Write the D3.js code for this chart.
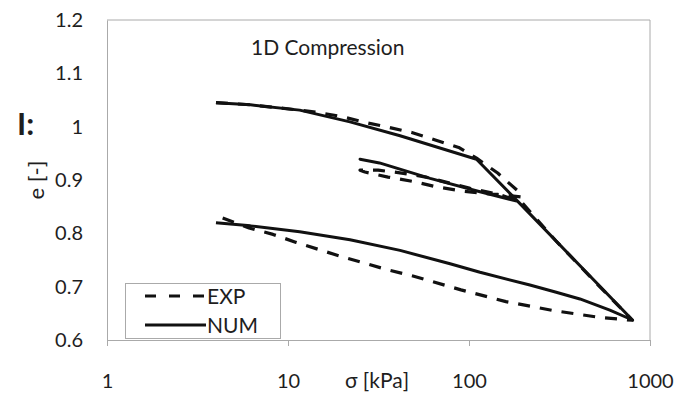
<!DOCTYPE html>
<html>
<head>
<meta charset="utf-8">
<script src="https://cdn.jsdelivr.net/npm/d3@7"></script>
<style>
  body { margin: 0; background: #fff; }
  text { font-family: Lato, "Open Sans", sans-serif; fill: #1e1e1e; }
</style>
</head>
<body>
<svg id="chart" width="700" height="398"></svg>
<script>
// axis ticks
var xTicks = [1, 10, 100, 1000];
var yTicks = [0.6, 0.7, 0.8, 0.9, 1, 1.1, 1.2];

// EXP: load -> unload -> reload -> load -> unload
var expSigma = [4, 6.2, 11.6, 14.4, 19.8, 26.6, 35.8, 48.3, 65.1, 87.7, 110, 144, 184, 196,
    160, 144, 122, 90.6, 66.5, 49.6, 35.7, 26.6, 25,
    31.5, 42.5, 57.8, 101.5, 150, 196, 300, 500, 800,
    536, 295, 160, 90.3, 49, 36.1, 19.9, 11.1, 8.26, 6.09, 4.26];
var expE = [1.045, 1.041, 1.031, 1.027, 1.019, 1.008, 0.999, 0.989, 0.975, 0.961, 0.941, 0.913, 0.881, 0.868,
    0.8715, 0.873, 0.8745, 0.8795, 0.887, 0.897, 0.9055, 0.915, 0.9185,
    0.9185, 0.913, 0.9055, 0.8845, 0.872, 0.858, 0.787, 0.708, 0.637,
    0.642, 0.655, 0.672, 0.694, 0.72, 0.731, 0.756, 0.783, 0.798, 0.81, 0.83];

// NUM: same loading path, model output
var numSigma = [4, 6.2, 11.6, 22, 41.6, 110, 186,
    160, 115, 61, 32, 25,
    32, 61, 115, 186, 800,
    600, 410, 300, 217, 115, 78.6, 41.6, 22, 11.6, 6.2, 4];
var numE = [1.045, 1.041, 1.031, 1.009, 0.983, 0.939, 0.86,
    0.866, 0.878, 0.903, 0.932, 0.939,
    0.932, 0.903, 0.878, 0.86, 0.6375,
    0.656, 0.677, 0.69, 0.703, 0.727, 0.743, 0.768, 0.788, 0.803, 0.814, 0.82];

var frameColor = "#aaaaaa";
var svg = d3.select("#chart");

var xScale = d3.scaleLog().domain([1, 1000]).range([107, 650]);
var yScale = d3.scaleLinear().domain([0.6, 1.2]).range([340, 20]);

//Frame top and right
svg.append("line")
    .attr("x1", 107).attr("x2", 650)
    .attr("y1", 20).attr("y2", 20)
    .style("stroke", frameColor);
svg.append("line")
    .attr("x1", 650).attr("x2", 650)
    .attr("y1", 20).attr("y2", 340)
    .style("stroke", frameColor);

//X axis
var xAxis = d3.axisBottom(xScale)
    .tickValues(xTicks)
    .tickFormat(d3.format("d"))
    .tickSizeInner(6)
    .tickSizeOuter(0);
var gx = svg.append("g")
    .attr("class", "x axis")
    .attr("transform", "translate(0,340)")
    .call(xAxis);
gx.select(".domain").style("stroke", frameColor);
gx.selectAll("line").style("stroke", frameColor);
gx.selectAll("text")
    .attr("y", 41)
    .attr("dy", "0.35em")
    .attr("font-size", "20px")
    .attr("font-family", "Lato");

//Y axis
var yAxis = d3.axisLeft(yScale)
    .tickValues(yTicks)
    .tickFormat(function(d) { return String(d); })
    .tickSize(0)
    .tickPadding(24);
var gy = svg.append("g")
    .attr("class", "y axis")
    .attr("transform", "translate(107,0)")
    .call(yAxis);
gy.select(".domain").style("stroke", frameColor);
gy.selectAll("text")
    .attr("font-size", "20px")
    .attr("font-family", "Lato");

//Axis titles
svg.append("text")
    .attr("x", 377)
    .attr("y", 381)
    .attr("dy", "0.35em")
    .attr("text-anchor", "middle")
    .attr("font-size", "21px")
    .text("σ [kPa]");

svg.append("text")
    .attr("transform", "translate(36,180) rotate(-90)")
    .attr("dy", "0.35em")
    .attr("text-anchor", "middle")
    .attr("font-size", "22px")
    .text("e [-]");

svg.append("text")
    .attr("x", 17)
    .attr("y", 135)
    .attr("font-weight", "bold")
    .attr("font-size", "31px")
    .text("I:");

//Title
svg.append("text")
    .attr("class", "title")
    .attr("x", 251)
    .attr("y", 55)
    .attr("font-size", "21px")
    .text("1D Compression");

var line = d3.line()
    .x(function(d) { return xScale(d[0]); })
    .y(function(d) { return yScale(d[1]); });

//EXP dashed
svg.append("path")
    .datum(d3.zip(expSigma, expE))
    .attr("d", line)
    .style("fill", "none")
    .style("stroke", "#111")
    .style("stroke-width", 3.2)
    .style("stroke-dasharray", "12,10")
    .style("stroke-linejoin", "round");

//NUM solid
svg.append("path")
    .datum(d3.zip(numSigma, numE))
    .attr("d", line)
    .style("fill", "none")
    .style("stroke", "#111")
    .style("stroke-width", 3)
    .style("stroke-linejoin", "round");

//Legend
var legend = svg.append("g").attr("class", "legend");
legend.append("rect")
    .attr("x", 125.5).attr("y", 283.5)
    .attr("width", 155).attr("height", 55)
    .style("fill", "#fff")
    .style("stroke", frameColor);
var legendItems = [{"name": "EXP", "dash": "11,13", "y": 296}, {"name": "NUM", "dash": null, "y": 325}];
legend.selectAll(".item")
    .data(legendItems)
    .enter()
    .append("line")
    .attr("x1", 145).attr("x2", 206)
    .attr("y1", function(d) { return d.y; })
    .attr("y2", function(d) { return d.y; })
    .style("stroke", "#111")
    .style("stroke-width", 3)
    .style("stroke-dasharray", function(d) { return d.dash; });
legend.selectAll(".label")
    .data(legendItems)
    .enter()
    .append("text")
    .attr("x", 207)
    .attr("y", function(d) { return d.y; })
    .attr("dy", "0.36em")
    .attr("font-size", "21px")
    .text(function(d) { return d.name; });
</script>
</body>
</html>
